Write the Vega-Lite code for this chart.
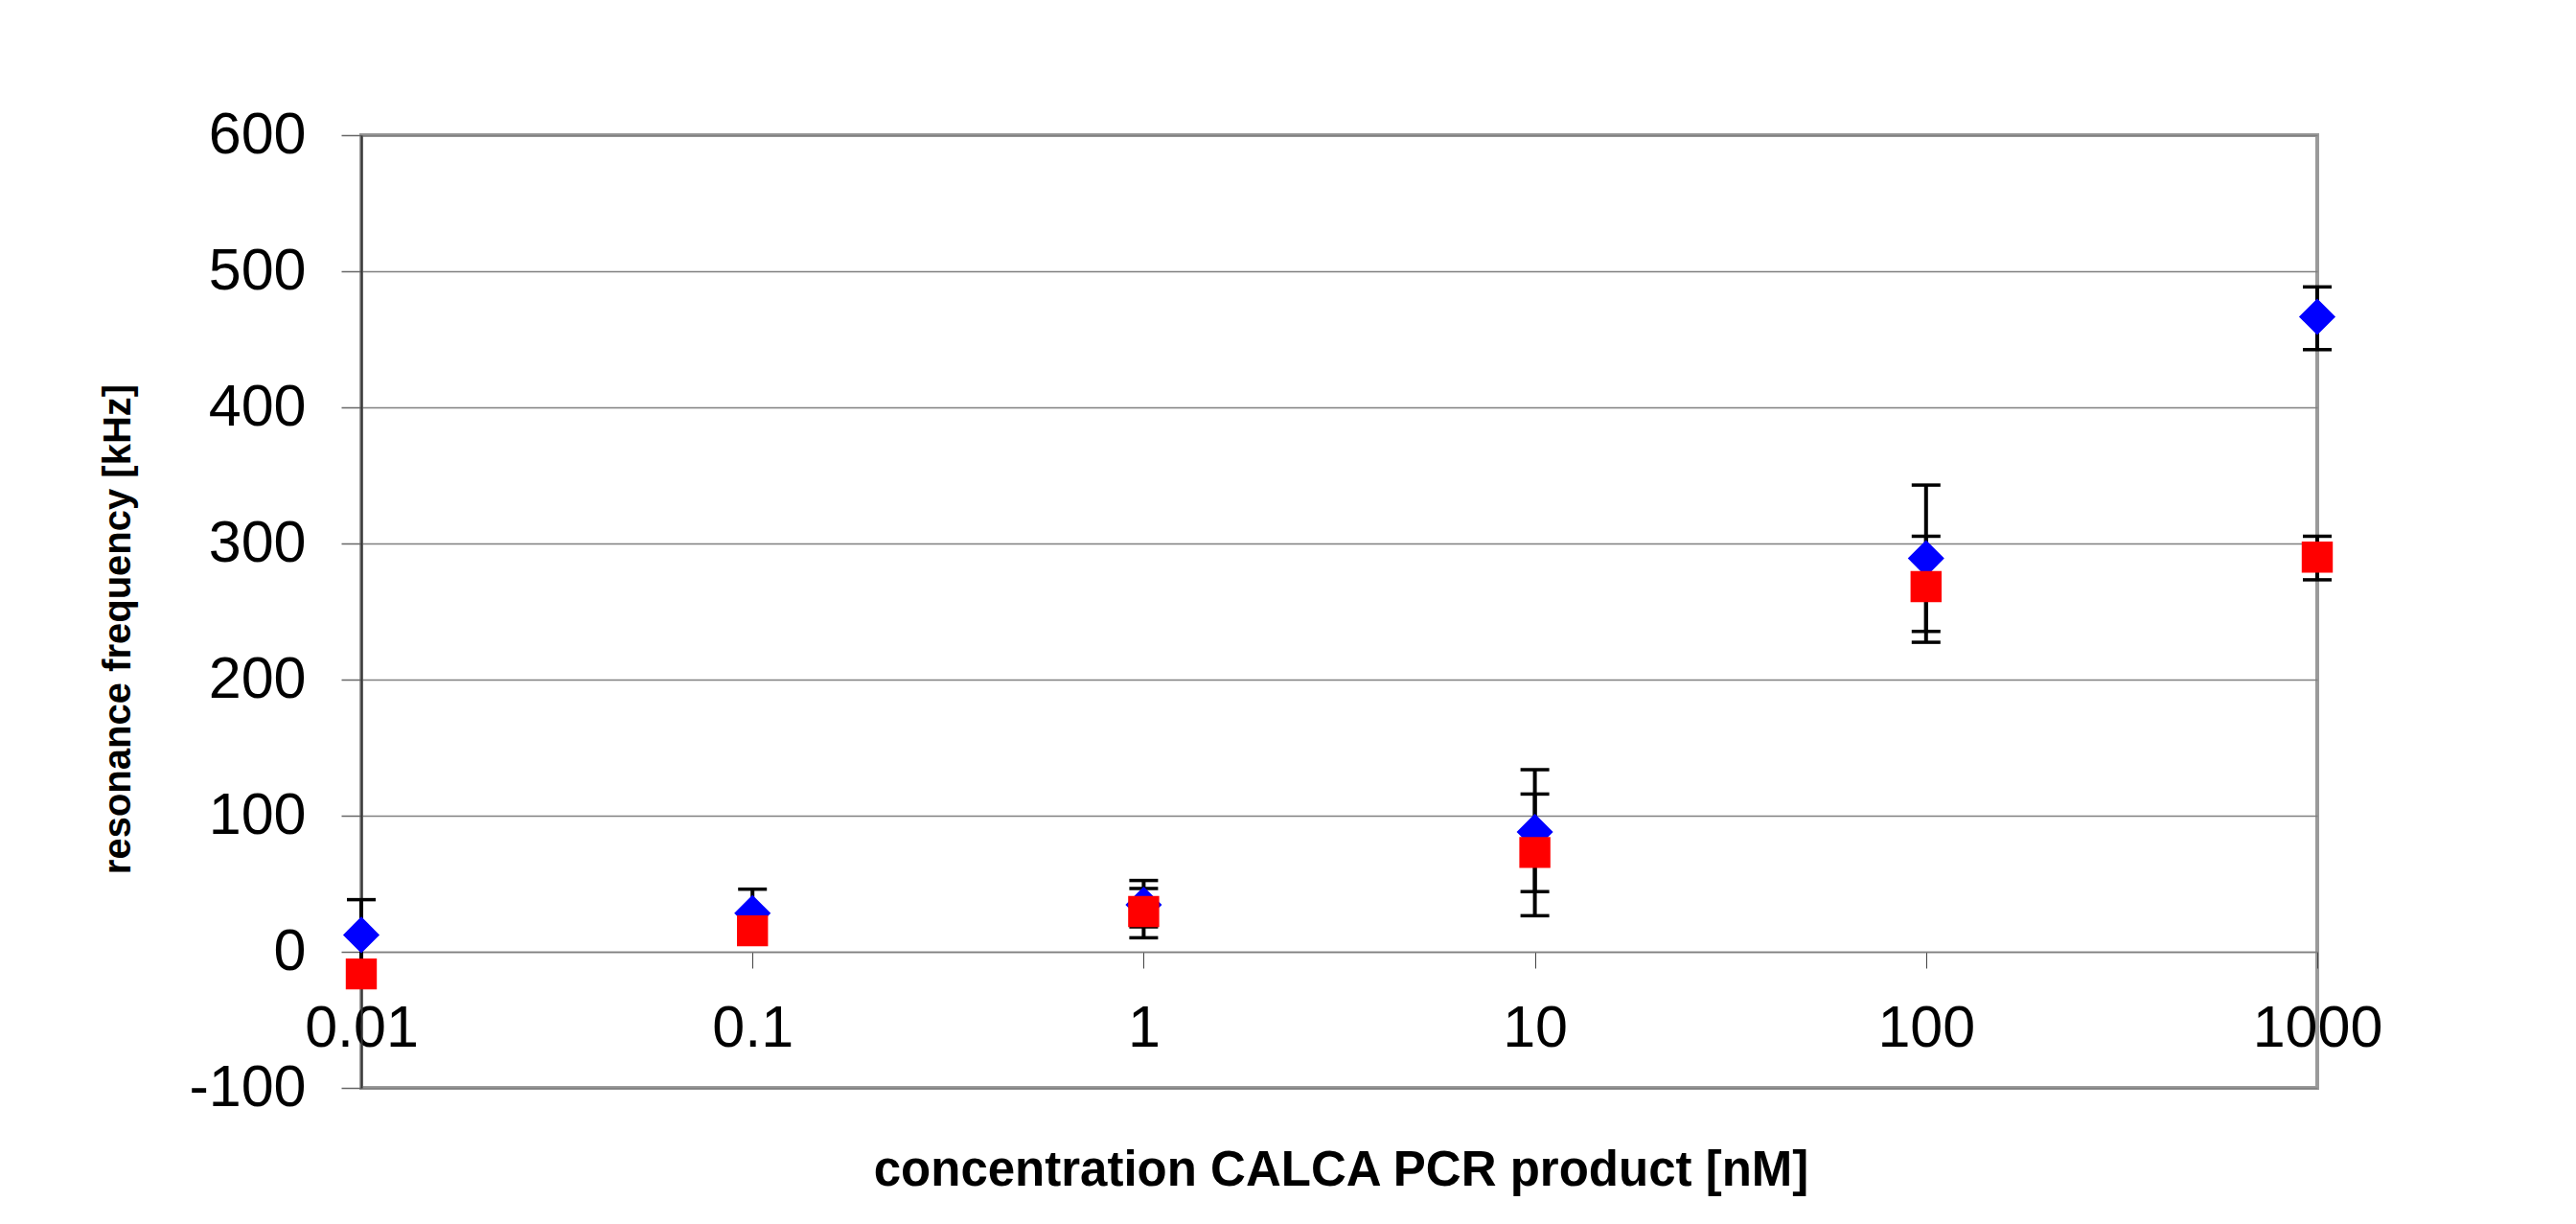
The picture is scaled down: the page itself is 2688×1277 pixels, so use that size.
{
  "$schema": "https://vega.github.io/schema/vega-lite/v6.json",
  "width": 2041,
  "height": 994,
  "autosize": {"type": "none"},
  "padding": {"left": 377, "top": 141, "right": 270, "bottom": 142},
  "background": "white",
  "config": {
    "font": "Liberation Sans",
    "view": {"stroke": "#9a9a9a", "strokeWidth": 4}
  },
  "data": {
    "values": [
      {"series": "A", "conc": 0.01, "value": 12.4, "lo": -13.6, "hi": 38.3},
      {"series": "A", "conc": 0.1, "value": 28.4, "lo": 10.8, "hi": 46.0},
      {"series": "A", "conc": 1, "value": 34.5, "lo": 18.3, "hi": 52.4},
      {"series": "A", "conc": 10, "value": 88.0, "lo": 44.2, "hi": 133.8},
      {"series": "A", "conc": 100, "value": 289.0, "lo": 235.4, "hi": 342.9},
      {"series": "A", "conc": 1000, "value": 466.6, "lo": 442.4, "hi": 488.5},
      {"series": "B", "conc": 0.01, "value": -16.3, "lo": null, "hi": null},
      {"series": "B", "conc": 0.1, "value": 15.4, "lo": null, "hi": null},
      {"series": "B", "conc": 1, "value": 29.6, "lo": 10.3, "hi": 46.5},
      {"series": "B", "conc": 10, "value": 73.0, "lo": 26.5, "hi": 115.9},
      {"series": "B", "conc": 100, "value": 268.3, "lo": 227.4, "hi": 305.3},
      {"series": "B", "conc": 1000, "value": 290.0, "lo": 273.3, "hi": 305.3}
    ]
  },
  "encoding": {
    "x": {
      "field": "conc",
      "type": "quantitative",
      "scale": {"type": "log", "domain": [0.01, 1000], "nice": false},
      "axis": {
        "values": [0.01, 0.1, 1, 10, 100, 1000],
        "labelExpr": "toString(datum.value)",
        "offset": -142,
        "grid": false,
        "domain": true,
        "domainColor": "#808080",
        "domainWidth": 1.5,
        "tickColor": "#444444",
        "tickWidth": 1,
        "tickSize": 17,
        "labelFontSize": 61,
        "labelColor": "black",
        "labelPadding": 33,
        "labelFlush": false,
        "labelOverlap": false,
        "labelBound": false,
        "title": "concentration CALCA PCR product [nM]",
        "titleFontSize": 51,
        "titleFontWeight": "bold",
        "titleColor": "black",
        "titleAlign": "center",
        "titleBaseline": "alphabetic",
        "titleX": 1022,
        "titleY": 243
      }
    }
  },
  "layer": [
    {
      "mark": {"type": "rule", "color": "black", "strokeWidth": 4},
      "encoding": {
        "y": {
          "field": "lo",
          "type": "quantitative",
          "scale": {"domain": [-100, 600], "nice": false},
          "axis": {
            "values": [-100, 0, 100, 200, 300, 400, 500, 600],
            "labelExpr": "toString(datum.value)",
            "grid": true,
            "gridColor": "#808080",
            "gridWidth": 1.5,
            "domain": true,
            "domainColor": "#333333",
            "domainWidth": 2,
            "tickColor": "#666666",
            "tickSize": 21,
            "tickWidth": 1.5,
            "labelFontSize": 61,
            "labelColor": "black",
            "labelPadding": 37,
            "labelOverlap": false,
            "labelBound": false,
            "labelFlush": false,
            "title": "resonance frequency [kHz]",
            "titleFontSize": 40,
            "titleFontWeight": "bold",
            "titleColor": "black",
            "titleAngle": -90,
            "titleAlign": "center",
            "titleBaseline": "middle",
            "titleX": -254,
            "titleY": 515
          }
        },
        "y2": {"field": "hi"}
      }
    },
    {
      "mark": {"type": "tick", "orient": "horizontal", "color": "black", "size": 30, "thickness": 3.5, "opacity": 1},
      "encoding": {"y": {"field": "lo", "type": "quantitative"}}
    },
    {
      "mark": {"type": "tick", "orient": "horizontal", "color": "black", "size": 30, "thickness": 3.5, "opacity": 1},
      "encoding": {"y": {"field": "hi", "type": "quantitative"}}
    },
    {
      "transform": [{"filter": "datum.series === 'A'"}],
      "mark": {"type": "point", "shape": "diamond", "filled": true, "size": 1450, "color": "#0000ff", "opacity": 1},
      "encoding": {"y": {"field": "value", "type": "quantitative"}}
    },
    {
      "transform": [{"filter": "datum.series === 'B'"}],
      "mark": {"type": "point", "shape": "square", "filled": true, "size": 1050, "color": "#ff0000", "opacity": 1},
      "encoding": {"y": {"field": "value", "type": "quantitative"}}
    }
  ]
}
